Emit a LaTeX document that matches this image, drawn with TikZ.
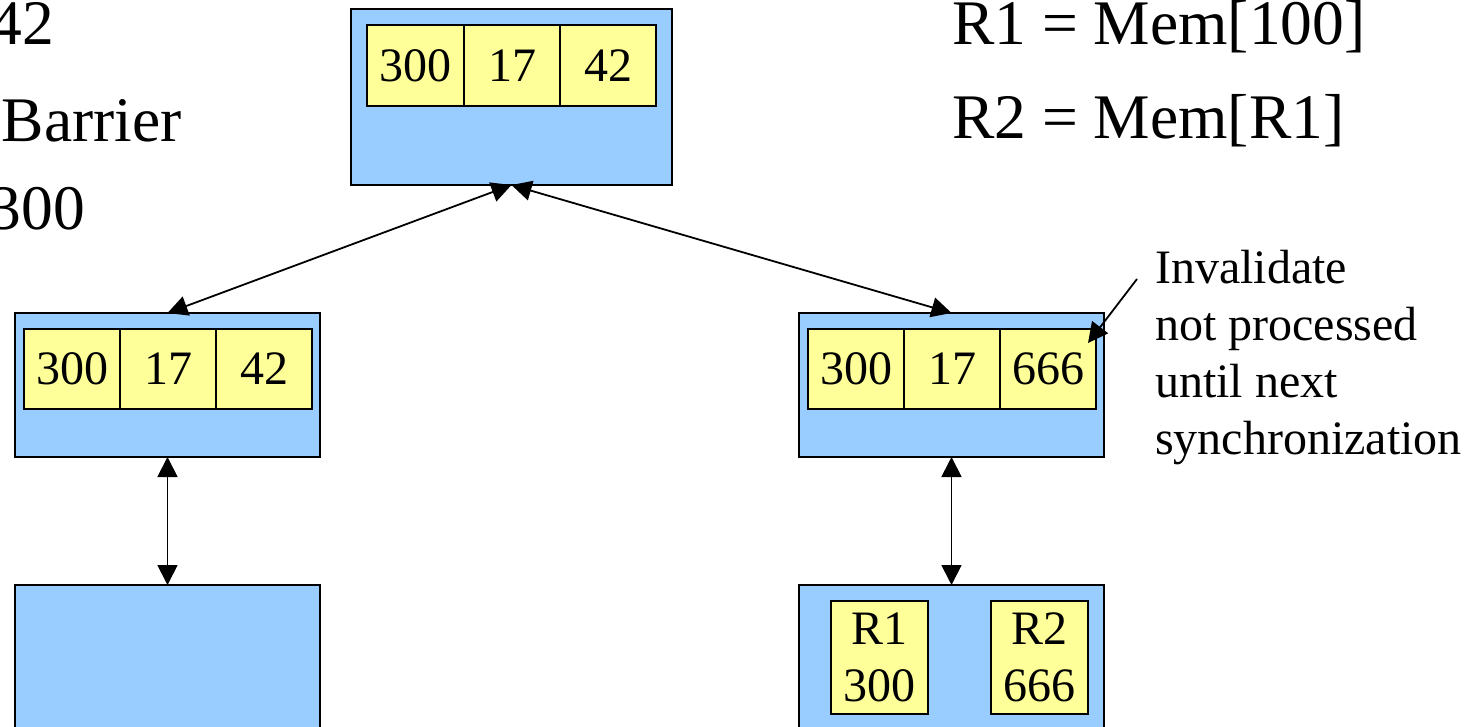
\documentclass[tikz,border=0pt]{standalone}
\usepackage{fontspec}
\setmainfont{Liberation Serif}
\usetikzlibrary{arrows.meta}
\definecolor{memblue}{HTML}{99CCFF}
\definecolor{cellyellow}{HTML}{FFFF99}
\begin{document}
\begin{tikzpicture}[x=1pt,y=-1pt,
  membox/.style={draw=black,line width=1.5pt,fill=memblue,inner sep=0pt,outer sep=0pt},
  cell/.style={draw=black,line width=1.5pt,fill=cellyellow,inner sep=0pt,outer sep=0pt,
    font=\fontsize{48}{57}\selectfont},
  link/.style={line width=1.8pt,{Triangle[length=20pt,width=20pt]}-{Triangle[length=20pt,width=20pt]}},
  pointer/.style={line width=1.8pt,-{Triangle[length=20pt,width=20pt]}},
  big/.style={font=\fontsize{63.5}{94}\selectfont,inner sep=0pt},
  note/.style={font=\fontsize{48}{57}\selectfont,inner sep=0pt,align=left}]
\useasboundingbox (0,0) rectangle (1482,727);
\clip (0,0) rectangle (1482,727);

% left-hand program text (cut off by the page edge)
\node[big,anchor=base east] (t42) at (54,45) {42};
\node[big,anchor=base east] (tbar) at (182,142) {Barrier};
\node[big,anchor=base east] (t300) at (85,230) {300};

% right-hand program text
\node[big,anchor=base west] (r1) at (952,45) {R1 = Mem[100]};
\node[big,anchor=base west] (r2) at (952,139) {R2 = Mem[R1]};

% top memory
\node[membox,minimum width=321pt,minimum height=176pt] (top) at (511.5,97) {};
\node[cell,minimum width=97pt,minimum height=81pt] (ta) at (415.5,65.5) {300};
\node[cell,minimum width=96pt,minimum height=81pt] (tb) at (512,65.5) {17};
\node[cell,minimum width=96pt,minimum height=81pt] (tc) at (608,65.5) {42};

% left cache
\node[membox,minimum width=305pt,minimum height=144pt] (lc) at (167.5,385) {};
\node[cell,minimum width=96pt,minimum height=80pt] (la) at (72,369) {300};
\node[cell,minimum width=96pt,minimum height=80pt] (lb) at (168,369) {17};
\node[cell,minimum width=96pt,minimum height=80pt] (lcc) at (264,369) {42};

% right cache
\node[membox,minimum width=305pt,minimum height=144pt] (rc) at (951.5,385) {};
\node[cell,minimum width=96pt,minimum height=80pt] (ra) at (856,369) {300};
\node[cell,minimum width=96pt,minimum height=80pt] (rb) at (952,369) {17};
\node[cell,minimum width=96pt,minimum height=80pt] (rcc) at (1048,369) {666};

% processors
\node[membox,minimum width=305pt,minimum height=160pt] (lp) at (167.5,665) {};
\node[membox,minimum width=305pt,minimum height=160pt] (rp) at (951.5,665) {};
\node[cell,minimum width=97pt,minimum height=113pt,align=center] (reg1) at (879.5,657.5) {R1\\300};
\node[cell,minimum width=97pt,minimum height=113pt,align=center] (reg2) at (1039.5,657.5) {R2\\666};

% connectors
\draw[link] (top.south) -- (lc.north);
\draw[link] (top.south) -- (rc.north);
\draw[link] (lc.south) -- (lp.north);
\draw[link] (rc.south) -- (rp.north);

% annotation
\node[note,anchor=north west] (inv) at (1155,250) {Invalidate\\not processed\\until next\\synchronization};
\coordinate (invfrom) at (1137,279);
\coordinate (invtip) at (1088,343);
\draw[pointer] (invfrom) -- (invtip);
\end{tikzpicture}
\end{document}
